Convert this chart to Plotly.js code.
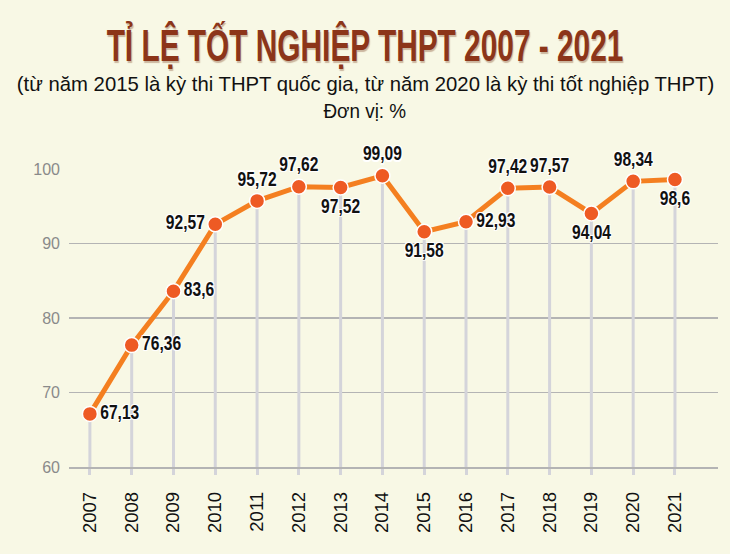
<!DOCTYPE html>
<html>
<head>
<meta charset="utf-8">
<script src="https://cdn.plot.ly/plotly-3.0.1.min.js"></script>
<style>html,body{margin:0;padding:0;background:#F8F8E5;}#chart{width:730px;height:554px;}</style>
</head>
<body>
<div id="chart"></div>
<script>
const years = ['2007','2008','2009','2010','2011','2012','2013','2014','2015','2016','2017','2018','2019','2020','2021'];
const rates = [67.13, 76.36, 83.6, 92.57, 95.72, 97.62, 97.52, 99.09, 91.58, 92.93, 97.42, 97.57, 94.04, 98.34, 98.6];
const yTicks = [60, 70, 80, 90, 100];
const titleText = 'TỈ LỆ TỐT NGHIỆP THPT 2007 - 2021';
const subtitleText = '(từ năm 2015 là kỳ thi THPT quốc gia, từ năm 2020 là kỳ thi tốt nghiệp THPT)';
const unitText = 'Đơn vị: %';

const labelPos = ['middle right','middle right','middle right','middle left','top center','top center','bottom center','top center','bottom center','middle right','top center','top center','bottom center','top center','bottom center'];

const labels = rates.map(v => String(v).replace('.', ','));

const stemX = [], stemY = [];
years.forEach((yr, i) => { stemX.push(yr, yr, null); stemY.push(rates[i], 60, null); });

const FONT = '"Liberation Sans", Arial, sans-serif';
const W = 730, H = 554, ML = 69, MR = 12, MT = 169, MB = 87;
const plotW = W - ML - MR, plotH = H - MT - MB;
const pageCx = (365 - ML) / plotW;

const traces = [
  {x: stemX, y: stemY, mode: 'lines', line: {color: '#D4D4DA', width: 3}, hoverinfo: 'skip', showlegend: false},
  {x: years, y: rates, mode: 'lines+markers+text', text: labels, textposition: labelPos,
   cliponaxis: false,
   line: {color: '#F47F20', width: 5},
   marker: {size: 15, color: '#EE5A24', line: {color: '#fff', width: 1.5}},
   textfont: {family: FONT, size: 20, weight: 700, color: '#111',
     shadow: '1px 1px 0 #fff, -1px -1px 0 #fff, 1px -1px 0 #fff, -1px 1px 0 #fff'},
   showlegend: false}
];

const layout = {
  width: W, height: H,
  paper_bgcolor: '#F8F8E5', plot_bgcolor: '#F8F8E5',
  margin: {l: ML, r: MR, t: MT, b: MB},
  title: {text: titleText, x: 0.5, xanchor: 'center', xref: 'container', y: 1 - 46/H, yanchor: 'middle', yref: 'container',
    font: {family: FONT, size: 44, weight: 700, color: '#8C3519',
      shadow: '1px 1px 1px rgba(120,60,30,0.35)'}},
  annotations: [
    {text: subtitleText, xref: 'paper', yref: 'paper', x: pageCx, xanchor: 'center', y: (H - MB - 84)/plotH, yanchor: 'middle', showarrow: false,
      font: {family: FONT, size: 20, color: '#111'}},
    {text: unitText, xref: 'paper', yref: 'paper', x: pageCx, xanchor: 'center', y: (H - MB - 111)/plotH, yanchor: 'middle', showarrow: false,
      font: {family: FONT, size: 20, color: '#111'}}
  ],
  xaxis: {type: 'category', range: [-0.5, 15.03], showgrid: false, zeroline: false,
    showline: true, linecolor: '#B4B4B4', linewidth: 1.5,
    ticks: 'outside', ticklen: 6, tickwidth: 3, tickcolor: '#D4D4DA',
    tickangle: -90, ticklabelstandoff: 10,
    tickfont: {family: FONT, size: 18.5, color: '#111'}},
  yaxis: {range: [60, 100], tickvals: yTicks, showgrid: true, gridcolor: '#B4B4B4', gridwidth: 1.5, zeroline: false,
    ticks: '', ticklabelstandoff: 8,
    tickfont: {family: FONT, size: 16, color: '#8A8A8A'}},
  hovermode: false
};

// narrow the text horizontally to imitate the condensed typeface of the reference
function squeeze(el, s, targetW) {
  const bb = el.getBBox();
  if (!bb.width) return;
  if (targetW) s = targetW / bb.width;
  const anchor = el.getAttribute('text-anchor') || 'start';
  const ox = anchor === 'middle' ? bb.x + bb.width / 2 : anchor === 'end' ? bb.x + bb.width : bb.x;
  const prev = el.getAttribute('transform') || '';
  el.setAttribute('transform', prev + ` translate(${ox},0) scale(${s},1) translate(${-ox},0)`);
}

Plotly.newPlot('chart', traces, layout, {displayModeBar: false, staticPlot: true}).then(gd => {
  const t = gd.querySelector('.gtitle'); if (t) squeeze(t, null, 517);
  const ann = gd.querySelectorAll('.annotation-text');
  if (ann[0]) squeeze(ann[0], null, 698);
  if (ann[1]) squeeze(ann[1], null, 83);
  gd.querySelectorAll('.textpoint text').forEach(el => squeeze(el, 0.78));
});
</script>
</body>
</html>
